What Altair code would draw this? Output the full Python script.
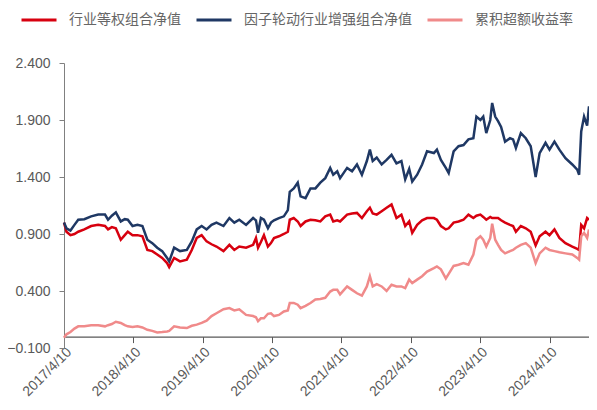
import altair as alt
import pandas as pd

dates = [
    "2017-04-10", "2017-04-23", "2017-05-14", "2017-06-04", "2017-06-24", "2017-07-26", "2017-08-31", "2017-10-07", "2017-11-12", "2017-11-28",
    "2017-12-18", "2018-01-08", "2018-02-03", "2018-02-24", "2018-03-12", "2018-04-06", "2018-05-02", "2018-05-28", "2018-06-23", "2018-07-19",
    "2018-08-14", "2018-09-09", "2018-10-05", "2018-10-16", "2018-11-11", "2018-12-12", "2019-01-17", "2019-02-12", "2019-03-10", "2019-04-05",
    "2019-05-01", "2019-05-27", "2019-06-22", "2019-07-29", "2019-08-29", "2019-09-24", "2019-10-20", "2019-11-25", "2020-01-01", "2020-01-16",
    "2020-01-27", "2020-02-11", "2020-02-27", "2020-03-19", "2020-04-04", "2020-04-20", "2020-05-16", "2020-06-11", "2020-07-02", "2020-07-12",
    "2020-08-02", "2020-08-23", "2020-09-07", "2020-10-03", "2020-10-29", "2020-11-24", "2020-12-20", "2021-01-15", "2021-02-10", "2021-02-26",
    "2021-03-19", "2021-04-03", "2021-05-10", "2021-06-05", "2021-07-01", "2021-07-27", "2021-08-22", "2021-09-07", "2021-09-22", "2021-10-13",
    "2021-11-08", "2021-12-04", "2021-12-30", "2022-01-25", "2022-02-20", "2022-03-12", "2022-04-02", "2022-04-18", "2022-05-14", "2022-06-09",
    "2022-07-05", "2022-08-10", "2022-08-26", "2022-09-16", "2022-10-12", "2022-10-27", "2022-11-22", "2022-12-18", "2023-01-13", "2023-02-08",
    "2023-03-06", "2023-03-22", "2023-04-12", "2023-04-27", "2023-05-13", "2023-06-03", "2023-06-13", "2023-06-29", "2023-07-14", "2023-07-30",
    "2023-08-20", "2023-09-15", "2023-10-01", "2023-10-16", "2023-11-11", "2023-12-07", "2024-01-02", "2024-01-28", "2024-02-18", "2024-03-20",
    "2024-04-10", "2024-05-06", "2024-06-01", "2024-07-03", "2024-08-08", "2024-09-03", "2024-09-13", "2024-09-24", "2024-10-09", "2024-10-25",
    "2024-11-04",
]

equal_weight_nav = [
    1.00, 0.92, 0.89, 0.90, 0.92, 0.94, 0.97, 0.98, 0.97, 0.94,
    0.96, 0.95, 0.85, 0.89, 0.92, 0.89, 0.89, 0.88, 0.76, 0.75,
    0.72, 0.69, 0.645, 0.61, 0.69, 0.66, 0.675, 0.76, 0.865, 0.89,
    0.835, 0.81, 0.79, 0.75, 0.805, 0.76, 0.79, 0.78, 0.805, 0.865,
    0.78, 0.83, 0.89, 0.79, 0.82, 0.865, 0.88, 0.90, 0.92, 1.025,
    1.04, 1.01, 0.97, 1.01, 1.025, 1.02, 1.01, 1.055, 1.07, 1.01,
    1.02, 1.01, 1.07, 1.08, 1.085, 1.04, 1.10, 1.13, 1.08, 1.07,
    1.10, 1.13, 1.16, 1.04, 1.07, 0.97, 1.01, 0.91, 0.98, 1.02,
    1.04, 1.04, 1.025, 0.97, 0.94, 0.95, 1.00, 1.01, 1.025, 1.07,
    1.04, 1.06, 1.07, 1.05, 1.025, 1.05, 1.04, 1.04, 1.04, 1.02,
    1.00, 0.98, 0.97, 0.92, 0.97, 0.95, 0.92, 0.80, 0.88, 0.92,
    0.89, 0.94, 0.865, 0.82, 0.79, 0.77, 0.76, 0.98, 0.95, 1.04,
    1.025,
]

rotation_nav = [
    1.00, 0.95, 0.93, 0.98, 1.025, 1.03, 1.055, 1.07, 1.07, 1.025,
    1.06, 1.09, 1.01, 1.03, 1.025, 0.97, 0.98, 0.97, 0.85, 0.82,
    0.78, 0.75, 0.69, 0.66, 0.78, 0.75, 0.76, 0.835, 0.94, 0.97,
    0.94, 0.98, 1.00, 0.97, 1.04, 1.00, 1.025, 0.98, 1.04, 1.02,
    0.91, 1.04, 1.025, 0.95, 1.00, 1.02, 1.04, 1.055, 1.11, 1.27,
    1.30, 1.35, 1.23, 1.215, 1.30, 1.30, 1.35, 1.39, 1.48, 1.42,
    1.45, 1.39, 1.48, 1.45, 1.51, 1.42, 1.54, 1.64, 1.54, 1.57,
    1.51, 1.55, 1.595, 1.52, 1.54, 1.38, 1.47, 1.36, 1.42, 1.51,
    1.625, 1.61, 1.64, 1.55, 1.48, 1.435, 1.625, 1.67, 1.68, 1.73,
    1.74, 1.93, 1.90, 1.93, 1.785, 1.90, 2.05, 1.93, 1.89, 1.84,
    1.71, 1.74, 1.73, 1.655, 1.785, 1.74, 1.67, 1.40, 1.61, 1.70,
    1.64, 1.71, 1.64, 1.565, 1.51, 1.465, 1.42, 1.80, 1.93, 1.85,
    2.02,
]

excess_return = [
    -0.01, 0.02, 0.04, 0.07, 0.09, 0.09, 0.10, 0.10, 0.09, 0.10,
    0.11, 0.13, 0.12, 0.10, 0.09, 0.085, 0.09, 0.08, 0.06, 0.05,
    0.037, 0.04, 0.045, 0.05, 0.09, 0.08, 0.075, 0.095, 0.105, 0.12,
    0.14, 0.18, 0.205, 0.24, 0.25, 0.23, 0.24, 0.19, 0.18, 0.17,
    0.135, 0.16, 0.16, 0.20, 0.205, 0.18, 0.19, 0.22, 0.23, 0.295,
    0.295, 0.28, 0.25, 0.27, 0.295, 0.325, 0.33, 0.34, 0.395, 0.41,
    0.41, 0.37, 0.44, 0.41, 0.38, 0.36, 0.44, 0.53, 0.44, 0.46,
    0.44, 0.40, 0.455, 0.44, 0.44, 0.425, 0.50, 0.47, 0.50, 0.53,
    0.57, 0.60, 0.615, 0.59, 0.51, 0.55, 0.62, 0.63, 0.645, 0.63,
    0.72, 0.85, 0.88, 0.85, 0.79, 0.865, 0.99, 0.85, 0.805, 0.76,
    0.73, 0.75, 0.76, 0.78, 0.805, 0.82, 0.78, 0.645, 0.73, 0.78,
    0.76, 0.75, 0.74, 0.73, 0.72, 0.69, 0.675, 0.88, 0.91, 0.865,
    0.94,
]

series_names = ["行业等权组合净值", "因子轮动行业增强组合净值", "累积超额收益率"]
series_colors = ["#D7000F", "#1F3864", "#F08A8A"]
x_tick_labels = ["2017/4/10", "2018/4/10", "2019/4/10", "2020/4/10",
                 "2021/4/10", "2022/4/10", "2023/4/10", "2024/4/10"]
y_ticks = [-0.1, 0.4, 0.9, 1.4, 1.9, 2.4]

rows = []
for name, vals in zip(series_names, [equal_weight_nav, rotation_nav, excess_return]):
    for d, v in zip(dates, vals):
        rows.append({"date": d, "series": name, "value": v})
df = pd.DataFrame(rows)
df["date"] = pd.to_datetime(df["date"])


def to_dt(s):
    y, m, d = [int(p) for p in s.replace("-", "/").split("/")]
    return alt.DateTime(year=y, month=m, date=d)


x_tick_values = [to_dt(t) for t in x_tick_labels]

axis_font = "Liberation Sans"
label_color = "#595959"

chart = alt.Chart(df).mark_line(strokeWidth=2.5).encode(
    x=alt.X(
        "date:T",
        scale=alt.Scale(domain=[to_dt(dates[0]), to_dt(dates[-1])], nice=False),
        axis=alt.Axis(
            values=x_tick_values,
            format="%Y/%-m/%-d",
            labelAngle=-45,
            offset=-11.4,
            tickSize=6,
            tickColor="#595959",
            domainColor="#595959",
            domainWidth=1.2,
            labelColor=label_color,
            labelFont=axis_font,
            labelFontSize=14,
            labelPadding=2,
            labelOverlap=False,
            labelFlush=False,
            grid=False,
            title=None,
        ),
    ),
    y=alt.Y(
        "value:Q",
        scale=alt.Scale(domain=[-0.1, 2.4], nice=False, zero=False),
        axis=alt.Axis(
            values=y_ticks,
            format=".3f",
            tickSize=5,
            tickColor="#808080",
            domainColor="#808080",
            labelColor=label_color,
            labelFont=axis_font,
            labelFontSize=14,
            labelPadding=9,
            grid=False,
            title=None,
        ),
    ),
    color=alt.Color(
        "series:N",
        scale=alt.Scale(domain=series_names, range=series_colors),
        legend=alt.Legend(
            orient="none",
            direction="horizontal",
            legendX=-44,
            legendY=-62,
            title=None,
            symbolType="stroke",
            symbolSize=1225,
            symbolStrokeWidth=3,
            labelFont="Noto Sans CJK SC",
            labelFontSize=14,
            labelColor="#666666",
            labelOffset=11,
            labelLimit=400,
            columnPadding=9,
            gridAlign="none",
            padding=0,
        ),
    ),
).properties(
    width=525,
    height=285,
    autosize=alt.AutoSizeParams(type="none"),
    padding={"left": 56, "top": 55, "right": 0, "bottom": 60},
).configure_view(stroke=None)

chart.save("out.html", embed_options={"renderer": "svg", "actions": False})
